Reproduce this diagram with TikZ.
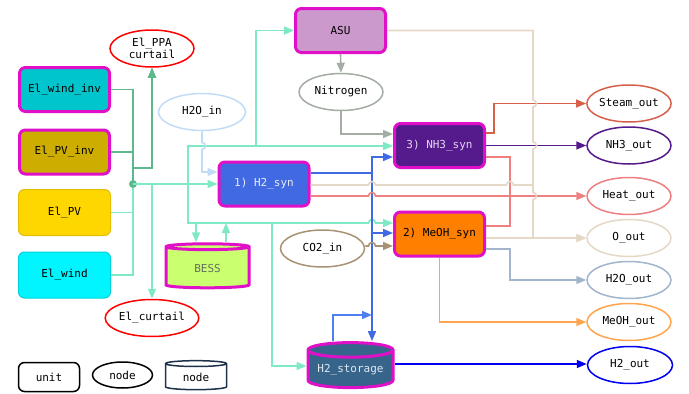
\documentclass[tikz,border=0pt]{standalone}
\usepackage{fontspec}
\setmonofont{DejaVu Sans Mono}
\usetikzlibrary{shapes.geometric,arrows.meta}
\definecolor{mag}{HTML}{E010C8}
\definecolor{aq}{HTML}{7FE8C4}
\definecolor{gdark}{HTML}{5DB88C}
\definecolor{lblue}{HTML}{C2DCF8}
\definecolor{rblue}{HTML}{4169E1}
\definecolor{sblue}{HTML}{4F7FEF}
\definecolor{pblue}{HTML}{0000EE}
\definecolor{beige}{HTML}{E6D8C6}
\definecolor{coral}{HTML}{F08080}
\definecolor{steam}{HTML}{D6614A}
\definecolor{purp}{HTML}{551A8B}
\definecolor{lsteel}{HTML}{A2B5CD}
\definecolor{orng}{HTML}{FFA54F}
\definecolor{grayg}{HTML}{A3ADA3}
\definecolor{brwn}{HTML}{A89274}
\tikzset{
  unit/.style={rectangle, rounded corners=6pt, minimum width=90pt, minimum height=44pt, line width=3pt, draw=mag, inner sep=0pt},
  thinunit/.style={rectangle, rounded corners=6pt, minimum width=92pt, minimum height=46pt, line width=1pt, inner sep=0pt},
  oval/.style={ellipse, minimum width=84pt, minimum height=37pt, line width=1.5pt, inner sep=0pt, fill=white},
  cyl/.style={cylinder, shape border rotate=90, aspect=0.22, line width=3pt, draw=mag, inner sep=0pt, cylinder uses custom fill},
  e/.style={line width=1.6pt, -{Triangle[length=10pt,width=8pt]}},
  l/.style={line width=1.6pt},
}
\begin{document}
\begin{tikzpicture}[x=1pt,y=-1pt, font=\ttfamily\fontsize{11}{13}\selectfont]
\useasboundingbox (0,0) rectangle (689,394);
% ---------- nodes ----------
\node[unit, fill={rgb,255:red,0;green,197;blue,205}] (Elwi) at (64.5,89.5) {El\_wind\_inv};
\node[unit, fill={rgb,255:red,205;green,173;blue,0}] (ElPVi) at (64.5,152) {El\_PV\_inv};
\node[thinunit, fill={rgb,255:red,255;green,215;blue,0}, draw={rgb,255:red,230;green,190;blue,0}] (ElPV) at (64.5,212.5) {El\_PV};
\node[thinunit, fill={rgb,255:red,0;green,245;blue,255}, draw={rgb,255:red,0;green,210;blue,220}] (Elw) at (64.5,275) {El\_wind};
\node[oval, draw=red, align=center, font=\ttfamily\fontsize{11}{12.5}\selectfont] (PPA) at (152,48.5) {El\_PPA\\curtail};
\node[oval, draw=red] (curt) at (152,318) {El\_curtail};
\node[oval, draw=lblue, minimum width=87pt] (H2O) at (202,112) {H2O\_in};
\node[unit, fill=rblue, text={rgb,255:red,232;green,236;blue,250}] (H2syn) at (264,184) {1) H2\_syn};
\node[cyl, minimum width=83pt, minimum height=44pt, cylinder body fill={rgb,255:red,202;green,255;blue,112}, cylinder end fill={rgb,255:red,202;green,255;blue,112}, text={rgb,255:red,100;green,110;blue,100}] (BESS) at (207.5,268) {BESS};
\node[unit, fill={rgb,255:red,204;green,153;blue,204}] (ASU) at (340.5,30.5) {ASU};
\node[oval, draw=grayg] (N2) at (341,92) {Nitrogen};
\node[unit, fill=purp, text={rgb,255:red,225;green,215;blue,240}] (NH3syn) at (439.5,145.5) {3) NH3\_syn};
\node[unit, fill={rgb,255:red,255;green,127;blue,0}] (MeOH) at (439.5,234) {2) MeOH\_syn};
\node[oval, draw=brwn] (CO2) at (322.5,248.5) {CO2\_in};
\node[cyl, minimum width=85pt, minimum height=45pt, cylinder body fill={rgb,255:red,54;green,100;blue,139}, cylinder end fill={rgb,255:red,54;green,100;blue,139}, text={rgb,255:red,225;green,232;blue,240}] (H2st) at (350.5,369.5) {H2\_storage};
\node[oval, draw=steam] (Steam) at (629,103.5) {Steam\_out};
\node[oval, draw=purp] (NH3out) at (629,145.5) {NH3\_out};
\node[oval, draw=coral] (Heat) at (629,196) {Heat\_out};
\node[oval, draw=beige] (Oout) at (629,238) {O\_out};
\node[oval, draw=lsteel] (H2Oout) at (629,280) {H2O\_out};
\node[oval, draw=orng] (MeOHout) at (629,322) {MeOH\_out};
\node[oval, draw=pblue, minimum width=85pt] (H2out) at (630,365) {H2\_out};
% legend
\node[rectangle, rounded corners=6pt, draw=black, line width=1.5pt, minimum width=61pt, minimum height=29pt] (lgu) at (49,377) {unit};
\node[ellipse, draw=black, line width=1.5pt, minimum width=60pt, minimum height=26pt, inner sep=0pt] (lgn) at (122.5,375) {node};
\node[cylinder, shape border rotate=90, aspect=0.22, draw={rgb,255:red,30;green,50;blue,75}, line width=1.5pt, minimum width=61pt, minimum height=29pt, inner sep=0pt] (lgc) at (196,377) {node};
% ---------- coordinates ----------
\coordinate (j) at (133,184);
\coordinate (hub) at (372,315);
% ---------- electricity (inverters) ----------
\draw[e,gdark] (Elwi.east) -- (133,89.5) -- (133,168) -- (152,168) -- (PPA.south);
\draw[e,gdark] (ElPVi.east) -- (133,152) -- (133,168) -- (152,168) -- (PPA.south);
\draw[l,gdark] (Elwi.east) -- (133,89.5) -- (j);
\draw[l,gdark] (ElPVi.east) -- (133,152) -- (j);
\draw[l,aq] (ElPV.east) -- (133,212.5) -- (j);
\draw[l,aq] (Elw.east) -- (133,275) -- (j);
\fill[gdark] (j) circle[radius=4pt];
% ---------- electricity bus ----------
\draw[e,aq] (j) -- (H2syn.west);
\draw[e,aq] (j) -- (152,184) -- (curt.north);
\draw[e,aq] (j) -- (188,184) -- (188,146) -- (256,146) -- (256,30.5) -- (ASU.west);
\draw[e,aq] (j) -- (188,184) -- (188,146) -- (NH3syn.west |- 0,146);
\draw[e,aq] (j) -- (188,184) -- (188,223) -- (368.5,223) arc[start angle=180,end angle=0,radius=3.5pt] -- (MeOH.west |- 0,223);
\draw[e,aq] (j) -- (188,184) -- (188,223) -- (196,223) -- (BESS.north -| 196,0);
\draw[e,aq] (BESS.north -| 226,0) -- (226,223);
\draw[e,aq] (j) -- (188,184) -- (188,223) -- (272,223) -- (272,366) -- (H2st.west |- 0,366);
% ---------- water in ----------
\draw[e,lblue] (H2O.south) -- (202,142.5) arc[start angle=90,end angle=-90,radius=3.5pt] -- (202,172) -- (H2syn.west |- 0,172);
% ---------- hydrogen ----------
\draw[e,rblue] (H2syn.east |- 0,173) -- (372,173) -- (372,157) -- (NH3syn.west |- 0,157);
\draw[e,rblue] (H2syn.east |- 0,173) -- (372,173) -- (372,233) -- (MeOH.west |- 0,233);
\draw[e,rblue] (H2syn.east |- 0,173) -- (372,173) -- (H2st.north -| 372,0);
\draw[e,sblue] (H2st.north -| 333,0) -- (333,315) -- (hub);
\draw[e,pblue] (H2st.east |- 0,364) -- (H2out.west |- 0,364);
% ---------- nitrogen ----------
\draw[e,grayg] (ASU.south) -- (N2.north);
\draw[e,grayg] (N2.south) -- (341,134) -- (NH3syn.west |- 0,134);
% ---------- CO2 ----------
\draw[e,brwn] (CO2.east |- 0,246) -- (368.5,246) arc[start angle=180,end angle=0,radius=3.5pt] -- (MeOH.west |- 0,246);
% ---------- steam / NH3 ----------
\draw[e,steam] (NH3syn.east |- 0,133) -- (494,133) -- (494,103.5) -- (Steam.west);
\draw[e,purp] (NH3syn.east) -- (NH3out.west);
% ---------- heat ----------
\draw[e,coral] (H2syn.east |- 0,196) -- (368.5,196) arc[start angle=180,end angle=0,radius=3.5pt] -- (Heat.west);
\draw[l,coral] (NH3syn.east |- 0,157) -- (510,157) -- (510,196);
\draw[l,coral] (MeOH.east |- 0,226) -- (510,226) -- (510,196);
% ---------- oxygen ----------
\draw[e,beige] (ASU.east |- 0,30.5) -- (533,30.5) -- (533,100)
  arc[start angle=90,end angle=-90,radius=3.5pt] -- (533,142)
  arc[start angle=90,end angle=-90,radius=3.5pt] -- (533,192.5)
  arc[start angle=90,end angle=-90,radius=3.5pt] -- (533,238) -- (Oout.west);
\draw[l,beige] (H2syn.east |- 0,185) -- (368.5,185) arc[start angle=180,end angle=0,radius=3.5pt]
  -- (506.5,185) arc[start angle=180,end angle=0,radius=3.5pt] -- (533,185);
\draw[e,beige] (MeOH.east |- 0,238) -- (Oout.west);
% ---------- MeOH outputs ----------
\draw[e,lsteel] (MeOH.east |- 0,249) -- (510,249) -- (510,280) -- (H2Oout.west);
\draw[e,orng] (MeOH.south) -- (MeOH.south |- 0,322) -- (MeOHout.west);
\end{tikzpicture}
\end{document}
